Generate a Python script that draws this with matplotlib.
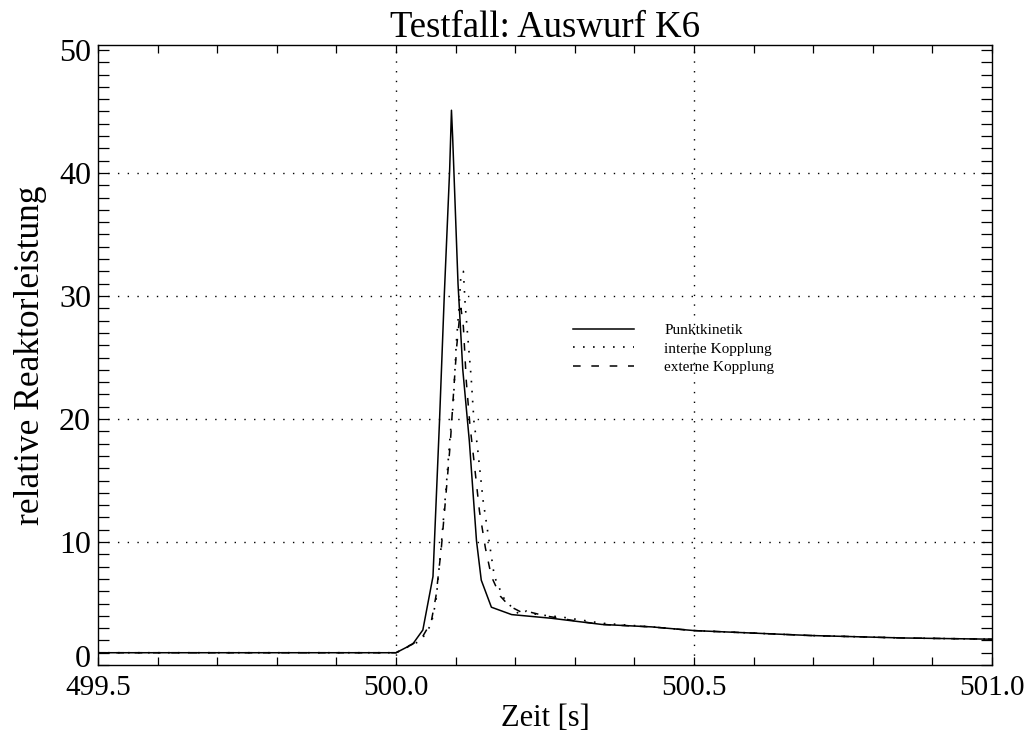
# -*- coding: utf-8 -*-

import numpy as np
import matplotlib
matplotlib.use('Agg')
import matplotlib.pyplot as plt
import matplotlib.transforms as mtransforms
from matplotlib.ticker import MultipleLocator

# Punktkinetik (solid)
t_punkt = [499.5, 500.0, 500.028, 500.045, 500.062, 500.073, 500.081, 500.090, 500.093,
           500.095, 500.104, 500.112, 500.123, 500.135, 500.143, 500.160, 500.194, 500.261,
           500.345, 500.429, 500.5, 500.695, 500.85, 501.0]
p_punkt = [1.0, 1.0, 1.7, 2.85, 7.2, 19.9, 30.1, 40.3, 45.1,
           42.9, 31.0, 24.0, 18.2, 10.1, 6.9, 4.7, 4.1, 3.8,
           3.3, 3.1, 2.8, 2.4, 2.2, 2.1]

# interne Kopplung (dotted)
t_intern = [499.5, 500.0, 500.042, 500.059, 500.067, 500.076, 500.084, 500.091, 500.096,
            500.101, 500.106, 500.109, 500.113, 500.116, 500.121, 500.126, 500.131, 500.136,
            500.146, 500.157, 500.165, 500.180, 500.194, 500.207, 500.219, 500.236, 500.278,
            500.345, 500.429, 500.5, 500.695, 500.85, 501.0]
p_intern = [1.0, 1.0, 2.0, 3.3, 5.2, 9.8, 14.4, 18.8, 21.2,
            26.1, 29.3, 31.8, 32.0, 29.3, 26.3, 23.4, 19.6, 18.0,
            13.4, 9.8, 7.2, 5.5, 4.7, 4.1, 4.4, 4.1, 3.9,
            3.4, 3.1, 2.8, 2.4, 2.2, 2.1]

# externe Kopplung (dashed)
t_extern = [499.5, 500.0, 500.042, 500.059, 500.067, 500.076, 500.084, 500.091, 500.097,
            500.102, 500.107, 500.109, 500.113, 500.118, 500.124, 500.131, 500.140, 500.150,
            500.160, 500.175, 500.190, 500.210, 500.225, 500.250, 500.300,
            500.345, 500.429, 500.5, 500.695, 500.85, 501.0]
p_extern = [1.0, 1.0, 2.1, 3.5, 5.6, 9.5, 14.0, 18.0, 22.5,
            26.0, 28.5, 29.0, 27.5, 23.0, 19.5, 16.5, 12.5, 9.5,
            7.2, 5.6, 4.8, 4.3, 4.3, 4.0, 3.6,
            3.3, 3.1, 2.8, 2.4, 2.2, 2.1]

x_ticks = [499.5, 500.0, 500.5, 501.0]
x_labels = ['499.5', '500.0', '500.5', '501.0']
y_ticks = [0, 10, 20, 30, 40, 50]

plt.rcParams['font.family'] = ['Liberation Serif', 'DejaVu Serif']

fig = plt.figure(figsize=(10.36, 7.35), dpi=100)
ax = fig.add_axes([0.0946, 0.0952, 0.863, 0.8435])

ax.plot(t_punkt, p_punkt, color='black', lw=1.1, label='Punktkinetik')
ax.plot(t_intern, p_intern, color='black', lw=1.2, linestyle=(0, (1, 5)), label='interne Kopplung')
ax.plot(t_extern, p_extern, color='black', lw=1.1, linestyle=(0, (5, 7)), label='externe Kopplung')

ax.set_xlim(499.5, 501.0)
ax.set_ylim(0, 50.4)
ax.set_xticks(x_ticks)
ax.set_xticklabels(x_labels)
ax.set_yticks(y_ticks)
ax.xaxis.set_minor_locator(MultipleLocator(0.1))
ax.yaxis.set_minor_locator(MultipleLocator(1))

ax.tick_params(axis='both', which='both', direction='in', top=True, right=True,
               colors='black', width=0.9)
ax.tick_params(axis='x', which='both', length=6, labelsize=21, pad=7)
ax.tick_params(axis='y', which='both', length=8, labelsize=23, pad=5)

# the "0" label sits a little above the bottom spine in the original
fig.canvas.draw()
ylab0 = ax.get_yticklabels()[0]
ylab0.set_transform(ylab0.get_transform() +
                    mtransforms.ScaledTranslation(0, 9 / 100.0, fig.dpi_scale_trans))

# dotted grid only inside the plot
for gx in [500.0, 500.5]:
    ax.axvline(gx, color='black', lw=1.0, linestyle=(0, (1, 6)))
for gy in [10, 20, 30, 40]:
    ax.axhline(gy, color='black', lw=1.0, linestyle=(0, (1, 6)))

for sp in ax.spines.values():
    sp.set_linewidth(1.0)

ax.set_title('Testfall: Auswurf K6', fontsize=26.5, pad=4)
ax.set_xlabel('Zeit [s]', fontsize=22, labelpad=2)
ax.set_ylabel('relative Reaktorleistung', fontsize=25.5, labelpad=9)

ax.legend(loc='upper left', bbox_to_anchor=(0.531, 0.551), frameon=False, fontsize=11,
          handlelength=4.0, handletextpad=2.0, labelspacing=0.32, borderpad=0,
          borderaxespad=0)

fig.savefig('out.png', dpi=100)
